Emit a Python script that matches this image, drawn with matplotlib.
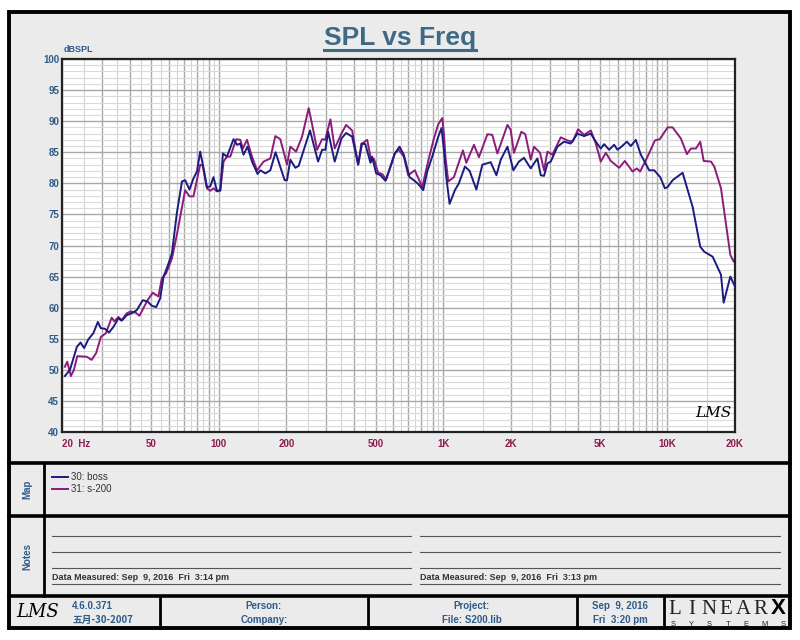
import numpy as np
import matplotlib.pyplot as plt
from matplotlib.patches import Rectangle

plt.rcParams['font.family'] = ['Liberation Sans', 'Noto Sans CJK SC', 'DejaVu Sans']

# 30: boss
boss_freq = [20.6, 21.7, 23.3, 24.2, 25.1, 26.2, 27.6, 28.9, 29.8, 31.1, 32.4, 33.9,
             35.7, 36.9, 38.9, 40.9, 43.1, 45.8, 48.1, 50.3, 52.6, 54.8, 56.7, 59.0,
             61.8, 65.0, 68.5, 70.8, 74.0, 77.1, 79.9, 82.6, 84.9, 88.5, 91.6, 94.7,
             98.1, 101.5, 104.3, 108.7, 116.3, 120.5, 124.6, 128.9, 134.3, 140.6, 148.9,
             153.1, 161.2, 169.7, 179, 196.6, 201.4, 208.4, 219.4, 227, 255, 277.1,
             288.7, 298.7, 307.1, 328.6, 352.0, 369.5, 393.0, 418.0, 432.4, 450, 474.3,
             482, 502.9, 526, 553.4, 582.6, 608.8, 639.0, 667.9, 708.1, 740, 774.2,
             815.3, 849.4, 894.2, 951.1, 984.1, 1007.6, 1032.8, 1068.6, 1128.3, 1175.7,
             1250.6, 1312.5, 1406.1, 1495.6, 1629.0, 1727.7, 1806, 1935, 2056, 2177,
             2293, 2457, 2541, 2632, 2723, 2817, 2917, 3018, 3232, 3459, 3706, 3971,
             4249, 4552, 4792, 5044, 5218, 5494, 5784, 5989, 6238, 6590, 6866, 7228,
             7610, 8289, 8729, 9282, 9742, 10016, 10543, 11683, 12948, 14000, 14590,
             15900, 17320, 17800, 19060, 20000]
boss_db = [49.0, 50.0, 53.7, 54.4, 53.5, 54.9, 55.9, 57.7, 56.7, 56.6, 56.0, 56.9,
           58.3, 57.9, 58.8, 59.1, 59.6, 61.2, 61.0, 60.3, 60.1, 61.5, 65.0, 66.6,
           68.7, 75.2, 80.3, 80.5, 79.0, 80.8, 81.9, 85.1, 83.0, 79.4, 79.5, 81.0,
           78.8, 78.9, 84.8, 84.3, 87.1, 86.2, 86.4, 84.6, 85.9, 83.5, 81.5,
           82.1, 81.6, 82.1, 85.0, 80.5, 80.5, 83.8, 82.5, 82.8, 88.5, 83.5,
           85.4, 85.4, 88.3, 83.5, 87.2, 88.1, 87.5, 83.0, 86.4, 86.3, 83.3,
           84.3, 81.6, 81.3, 80.4, 82.7, 84.8, 85.9, 84.6, 81.0, 80.5, 79.9,
           78.9, 81.9, 84.3, 87.5, 88.9, 85.4, 81.0, 76.7, 78.9, 80.0,
           82.7, 82.0, 79.0, 83.0, 83.4, 81.3, 83.8, 85.9, 82.1, 83.5,
           84.1, 82.4, 83.2, 84.0, 81.3, 81.2, 83.2, 83.5, 85.9, 86.7, 86.4, 88.0,
           87.6, 88.0, 86.7, 85.6, 86.3, 85.4, 86.2, 85.4, 85.9, 86.7, 86.0, 87.0,
           84.6, 82.1, 82.1, 81.0, 79.2, 79.4, 80.5, 81.7, 76.2, 69.8, 69.0,
           68.2, 65.3, 60.8, 65.0, 63.4]

# 31: s-200
s200_freq = [20.6, 21.1, 21.9, 22.6, 23.4, 25.8, 27.1, 28.4, 29.8, 31.4, 33.3, 34.2,
             35.7, 36.9, 38.9, 40.5, 42.6, 44.3, 48.1, 50.8, 53.8, 55.7, 58.2, 61.8,
             65.0, 70.8, 74.0, 77.1, 79.9, 82.6, 84.9, 88.5, 91.6, 94.7, 98.1, 101.5,
             105.0, 108.7, 112.5, 119.6, 124.6, 128.1, 133.5, 140.6, 148.0, 158.4, 169.7,
             178.6, 188, 201.4, 208.4, 221.0, 235, 251.6, 260.5, 274.3, 288.7, 298,
             314.4, 328.6, 352.0, 369.5, 393.0, 418.0, 435.6, 458.6, 479.2, 490.7,
             513.4, 535, 557.4, 582.6, 608.8, 634.3, 668, 698.8, 747.8, 806.8, 858.3,
             909.1, 951.1, 991.2, 1008, 1025.4, 1054.4, 1116.9, 1225.2, 1268.6, 1371.9,
             1444.2, 1574.8, 1656, 1745.3, 1935, 2000, 2068, 2232, 2325, 2457, 2541,
             2704, 2817, 2917, 3069, 3344, 3583, 3778, 3995, 4249, 4552, 4792, 5044,
             5310, 5590, 6089, 6455, 6987, 7300, 7555, 8154, 8790, 9240, 10016, 10543,
             11480, 12210, 12723, 13395, 14000, 14500, 15630, 16170, 17320, 19060,
             19730, 20000]
s200_db = [50.5, 51.3, 49.0, 50.0, 52.2, 52.1, 51.6, 52.7, 55.3, 55.9, 58.4, 57.8,
           58.5, 58.0, 59.1, 59.4, 59.2, 58.7, 61.2, 62.4, 61.8, 64.7, 65.5, 67.9,
           71.7, 78.9, 77.9, 77.9, 80.5, 83.0, 82.8, 79.2, 78.8, 79.2, 78.7, 78.8,
           83.5, 84.3, 84.3, 87.1, 87.0, 85.6, 87.0, 84.3, 82.1, 83.5, 84.0,
           87.6, 87.1, 83.0, 85.9, 85.1, 87.5, 92.1, 89.5, 85.4, 87.1, 87.0,
           90.3, 85.6, 88.0, 89.4, 88.5, 83.0, 86.4, 87.0, 83.5, 84.0,
           81.7, 81.5, 80.6, 82.7, 84.8, 85.4, 84.3, 81.3, 82.1, 79.4, 83.6,
           87.2, 89.5, 90.5, 88.0, 84.0, 80.3, 81.0, 85.3, 83.3, 86.2,
           84.2, 87.9, 87.8, 84.8, 89.4, 88.6, 84.9, 88.3, 87.9, 83.8, 85.9,
           84.9, 82.1, 85.1, 84.6, 87.4, 86.9, 86.7, 88.7, 87.8, 88.5, 86.4, 83.5,
           84.9, 83.6, 82.5, 83.6, 81.9, 82.4, 81.9, 84.3, 86.9, 87.1, 89.0, 89.0,
           87.2, 84.7, 85.6, 85.6, 86.7, 83.6, 83.5, 82.7, 79.2, 68.5,
           67.4, 67.9]

x_ticks = [20, 50, 100, 200, 500, 1000, 2000, 5000, 10000, 20000]
x_labels = ['20  Hz', '50', '100', '200', '500', '1K', '2K', '5K', '10K', '20K']
y_ticks = list(range(40, 101, 5))

bg_col = '#ebebeb'
blue_txt = '#2d5b8a'
red_txt = '#8e1b4e'

fig = plt.figure(figsize=(8, 6.4), dpi=100)

# page frame, drawn in pixel coordinates
bg = fig.add_axes([0, 0, 1, 1], zorder=0)
bg.set_xlim(0, 800)
bg.set_ylim(640, 0)
bg.axis('off')
bg.add_patch(Rectangle((9, 12), 781, 616, facecolor=bg_col, edgecolor='black', lw=2.8))
bg.plot([9, 790], [463, 463], color='black', lw=2.6)
bg.plot([9, 790], [516, 516], color='black', lw=2.6)
bg.plot([9, 790], [596, 596], color='black', lw=2.6)
bg.plot([44, 44], [463, 596], color='black', lw=2.0)
for xv in [160, 368, 577, 664]:
    bg.plot([xv, xv], [596, 628], color='black', lw=2.0)

# title
bg.text(400, 38, 'SPL vs Freq', ha='center', va='center', fontsize=19,
        fontweight='bold', color='#3e6a86')
bg.plot([324, 476], [50, 50], color='#3e6a86', lw=2.2)
bg.text(64, 54, 'dBSPL', ha='left', va='bottom', fontsize=6.5, fontweight='bold',
        color=blue_txt)

# map panel
bg.text(27, 489, 'Map', rotation=90, ha='center', va='center', fontsize=7,
        fontweight='bold', color=blue_txt)
bg.plot([52, 68], [477, 477], color='#1c1c80', lw=1.4)
bg.plot([52, 68], [489, 489], color='#8c1c7c', lw=1.4)
bg.text(71, 477, '30: boss', ha='left', va='center', fontsize=7, color='#333333')
bg.text(71, 489, '31: s-200', ha='left', va='center', fontsize=7, color='#333333')

# notes panel
bg.text(27, 556, 'Notes', rotation=90, ha='center', va='center', fontsize=7,
        fontweight='bold', color=blue_txt)
for x0, x1 in [(52, 411), (420, 780)]:
    for yv in [536, 552, 568, 584]:
        bg.plot([x0, x1], [yv, yv], color='#555555', lw=0.8)
bg.text(52, 582, 'Data Measured: Sep  9, 2016  Fri  3:14 pm', ha='left', va='bottom',
        fontsize=6.5, fontweight='bold', color='#333333')
bg.text(420, 582, 'Data Measured: Sep  9, 2016  Fri  3:13 pm', ha='left', va='bottom',
        fontsize=6.5, fontweight='bold', color='#333333')

# footer
bg.text(38, 612, 'LMS', ha='center', va='center', fontsize=13, fontstyle='italic',
        family='DejaVu Serif', color='black')
bg.text(72, 606, '4.6.0.371', ha='left', va='center', fontsize=7, fontweight='bold', color=blue_txt)
bg.text(72, 620, '五月-30-2007', ha='left', va='center', fontsize=7, fontweight='bold',
        color=blue_txt, family=['Noto Sans CJK SC', 'DejaVu Sans'])
bg.text(264, 606, 'Person:', ha='center', va='center', fontsize=7, fontweight='bold', color=blue_txt)
bg.text(264, 620, 'Company:', ha='center', va='center', fontsize=7, fontweight='bold', color=blue_txt)
bg.text(472, 606, 'Project:', ha='center', va='center', fontsize=7, fontweight='bold', color=blue_txt)
bg.text(472, 620, 'File: S200.lib', ha='center', va='center', fontsize=7, fontweight='bold', color=blue_txt)
bg.text(620, 606, 'Sep  9, 2016', ha='center', va='center', fontsize=7, fontweight='bold', color=blue_txt)
bg.text(620, 620, 'Fri  3:20 pm', ha='center', va='center', fontsize=7, fontweight='bold', color=blue_txt)
for i, ch in enumerate('LINEAR'):
    bg.text(675 + i * 17, 609, ch, ha='center', va='center', fontsize=15,
            family='Liberation Serif', color='#222222')
bg.text(778, 609, 'X', ha='center', va='center', fontsize=16, fontweight='bold',
        family='Liberation Sans', color='black')
for i, ch in enumerate('SYSTEMS'):
    bg.text(673 + i * 18.3, 624, ch, ha='center', va='center', fontsize=5.5, color='#222222')

# main chart
ax = fig.add_axes([62 / 800, 1 - 432 / 640, (735 - 62) / 800, (432 - 59) / 640], zorder=1)
ax.set_facecolor('white')
ax.set_xscale('log')
ax.set_xlim(20, 20000)
ax.set_ylim(40, 100)

minor_x = []
major_x = []
for dec in [10, 100, 1000, 10000]:
    for n in range(1, 10):
        if 20 <= n * dec <= 20000:
            major_x.append(n * dec)
        if 20 <= (n + 0.5) * dec <= 20000:
            minor_x.append((n + 0.5) * dec)
for xv in minor_x:
    ax.axvline(xv, color='#d4d4d4', lw=0.8, zorder=0)
for xv in major_x:
    ax.axvline(xv, color='#a8a8a8', lw=1.0, zorder=0)
for yv in range(41, 100):
    if yv % 5:
        ax.axhline(yv, color='#dadada', lw=0.8, zorder=0)
for yv in y_ticks:
    ax.axhline(yv, color='#a8a8a8', lw=1.0, zorder=0)

ax.plot(boss_freq, boss_db, color='#1c1c80', lw=1.4, zorder=3)
ax.plot(s200_freq, s200_db, color='#8c1c7c', lw=1.4, zorder=2)

ax.set_xticks(x_ticks)
ax.set_xticklabels(x_labels)
ax.xaxis.set_minor_locator(plt.NullLocator())
ax.set_yticks(y_ticks)
ax.tick_params(axis='x', length=0, pad=5, labelsize=7, labelcolor=red_txt)
ax.tick_params(axis='y', length=0, pad=2, labelsize=7, labelcolor=blue_txt)
for lbl in ax.get_xticklabels():
    lbl.set_fontweight('bold')
for lbl in ax.get_yticklabels():
    lbl.set_fontweight('bold')
ax.get_xticklabels()[0].set_horizontalalignment('left')
for sp in ax.spines.values():
    sp.set_linewidth(1.6)
    sp.set_color('#222222')

ax.text(0.968, 0.05, 'LMS', transform=ax.transAxes, ha='center', va='center',
        fontsize=11, fontstyle='italic', family='DejaVu Serif', color='black')

fig.savefig('out.png', dpi=100)
